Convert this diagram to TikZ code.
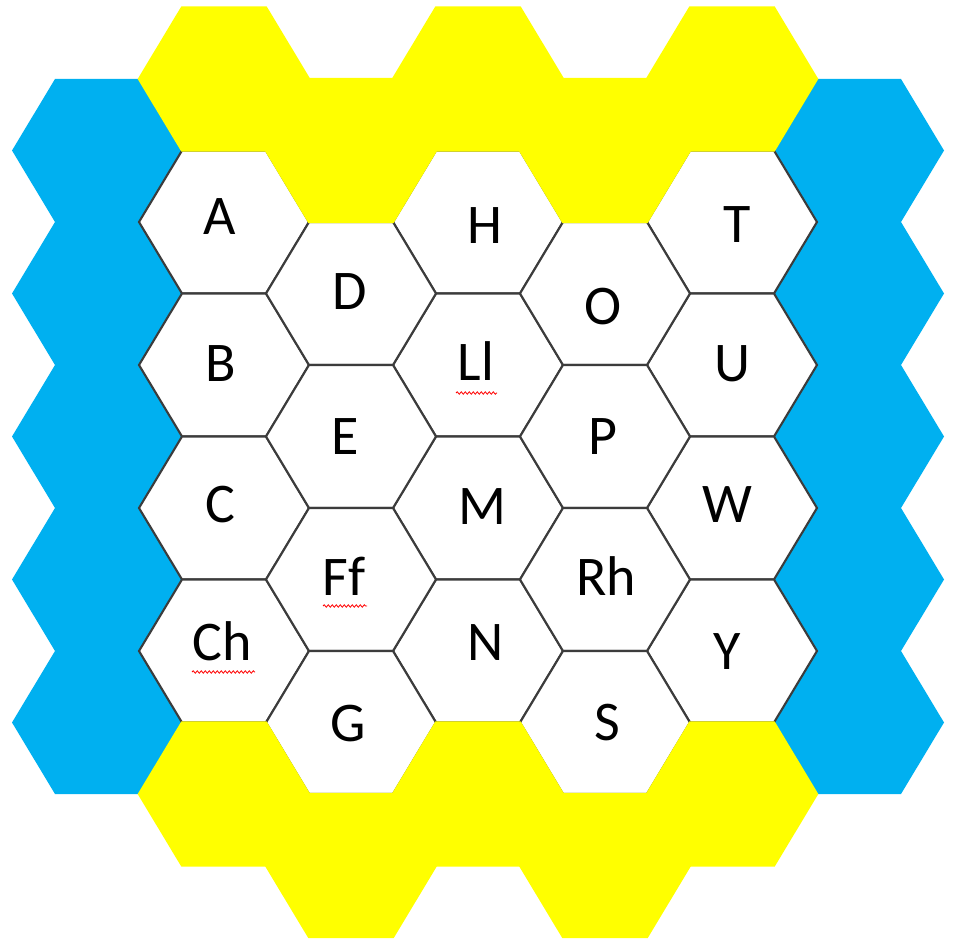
\documentclass[tikz,border=0pt]{standalone}
\usepackage{fontspec}
\setmainfont{Carlito}
\usetikzlibrary{decorations.pathmorphing}
\definecolor{hexblue}{RGB}{0,176,240}
\definecolor{hexyellow}{RGB}{255,255,0}
\definecolor{hexline}{RGB}{60,60,60}
\tikzset{
  hexagon/.pic={\path[pic actions] (-85,0) -- (-42,-71.5) -- (42,-71.5) -- (85,0) -- (42,71.5) -- (-42,71.5) -- cycle;},
  bluehex/.style={fill=hexblue},
  whitehex/.style={fill=white, draw=hexline, line width=2.1pt, line join=miter},
  yellowhex/.style={fill=hexyellow, draw=hexyellow, line width=2.3pt},
  lbl/.style={font=\fontsize{56}{60}\selectfont, text=black, inner sep=0pt},
  squiggle/.style={draw=red, line width=0.8pt, decorate, decoration={snake, amplitude=1.2pt, segment length=4pt}}
}
\begin{document}
\begin{tikzpicture}[x=1pt,y=-1pt]
\useasboundingbox (0,0) rectangle (956,941);
\fill[white] (0,0) rectangle (956,941);
% blue side columns
\foreach \y in {150.5,293.5,436.5,579.5,722.5}{
  \pic[bluehex] at (97,\y) {hexagon};
  \pic[bluehex] at (859,\y) {hexagon};
}
% white board cells
\foreach \x in {224,478,732}{
  \foreach \y in {222,365,508,651}{
    \pic[whitehex] at (\x,\y) {hexagon};
  }
}
\foreach \x in {351,605}{
  \foreach \y in {293.5,436.5,579.5,722.5}{
    \pic[whitehex] at (\x,\y) {hexagon};
  }
}
% yellow top and bottom rows
\foreach \x in {224,478,732}{
  \pic[yellowhex] at (\x,79) {hexagon};
  \pic[yellowhex] at (\x,794) {hexagon};
}
\foreach \x in {351,605}{
  \pic[yellowhex] at (\x,150.5) {hexagon};
  \pic[yellowhex] at (\x,865.5) {hexagon};
}
% labels
\node[lbl] (A)  at (220,217) {A};
\node[lbl] (B)  at (221,364) {B};
\node[lbl] (C)  at (220,505) {C};
\node[lbl] (Ch) at (222,641) {Ch};
\node[lbl] (D)  at (350,292) {D};
\node[lbl] (E)  at (345,437) {E};
\node[lbl] (Ff) at (344,576) {Ff};
\node[lbl] (G)  at (348,724) {G};
\node[lbl] (H)  at (485,226) {H};
\node[lbl] (Ll) at (476,361) {Ll};
\node[lbl] (M)  at (482,507) {M};
\node[lbl] (N)  at (486,643) {N};
\node[lbl] (O)  at (603,307) {O};
\node[lbl] (P)  at (603,437) {P};
\node[lbl] (Rh) at (606,576) {Rh};
\node[lbl] (S)  at (607,723) {S};
\node[lbl] (T)  at (737,225) {T};
\node[lbl] (U)  at (732,364) {U};
\node[lbl] (W)  at (727,505) {W};
\node[lbl] (Y)  at (727,652) {Y};
% spell-check underlines
\draw[squiggle] (456,393) -- (497,393);
\draw[squiggle] (323,606) -- (367,606);
\draw[squiggle] (192,672) -- (255,672);
\end{tikzpicture}
\end{document}
